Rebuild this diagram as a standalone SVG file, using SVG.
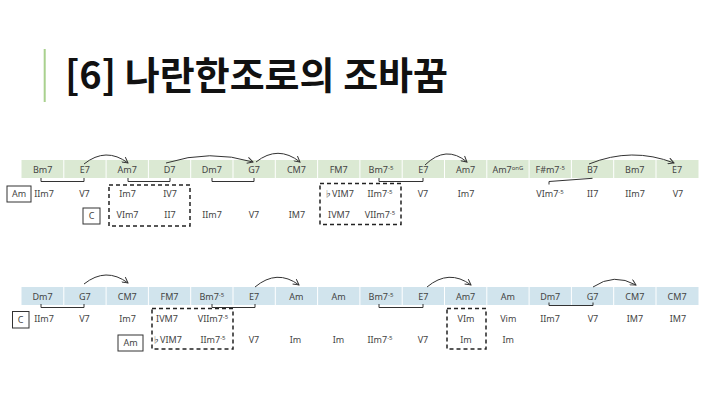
<svg xmlns="http://www.w3.org/2000/svg" width="720" height="404" viewBox="0 0 720 404">
<defs>
<marker id="arr" viewBox="0 0 8 8" refX="7" refY="4" markerWidth="7" markerHeight="7" markerUnits="userSpaceOnUse" orient="auto">
<path d="M0.5,0.5 L7,4 L0.5,7.5" fill="none" stroke="#333" stroke-width="1.1"/>
</marker>
</defs>
<style>
.title{font-family:"Noto Sans CJK KR","Noto Sans",sans-serif;font-weight:700;font-size:38px;fill:#111}
.ch{font-family:"Noto Sans","Open Sans",sans-serif;font-size:9px;fill:#444;text-anchor:middle}
.lb{font-family:"Noto Sans","Open Sans",sans-serif;font-size:9px;fill:#444;text-anchor:middle}
.sup{font-size:6px}
.fl{font-family:"Noto Sans CJK KR","DejaVu Sans",sans-serif;font-size:8px;fill:#444}
.band1{fill:#dbe9d3}
.band2{fill:#d1e4ed}
.div{stroke:#fff;stroke-width:1}
.arc{fill:none;stroke:#333;stroke-width:1;marker-end:url(#arr)}
.br{fill:none;stroke:#333;stroke-width:1}
.key{fill:#fff;stroke:#333;stroke-width:1}
.dash{fill:none;stroke:#222;stroke-width:1.5;stroke-dasharray:4 3}
</style>
<rect x="0" y="0" width="720" height="404" fill="#fff"/>
<g id="title">
<rect x="43.7" y="49" width="2" height="53" fill="#a9d18e"/>
<text class="title" x="65" y="89">[6] 나란한조로의 조바꿈</text>
</g>

<g id="row1">
<rect class="band1" x="21.5" y="160" width="677" height="18"/>
<g class="div">
<line x1="63.8" y1="160" x2="63.8" y2="178"/><line x1="106.1" y1="160" x2="106.1" y2="178"/><line x1="148.4" y1="160" x2="148.4" y2="178"/><line x1="190.7" y1="160" x2="190.7" y2="178"/><line x1="233" y1="160" x2="233" y2="178"/><line x1="275.3" y1="160" x2="275.3" y2="178"/><line x1="317.6" y1="160" x2="317.6" y2="178"/><line x1="359.9" y1="160" x2="359.9" y2="178"/><line x1="402.2" y1="160" x2="402.2" y2="178"/><line x1="444.5" y1="160" x2="444.5" y2="178"/><line x1="486.8" y1="160" x2="486.8" y2="178"/><line x1="529.1" y1="160" x2="529.1" y2="178"/><line x1="571.4" y1="160" x2="571.4" y2="178"/><line x1="613.7" y1="160" x2="613.7" y2="178"/><line x1="656" y1="160" x2="656" y2="178"/>
</g>
<g id="row1-chords">
<text class="ch" x="42.6" y="173.3">Bm7</text>
<text class="ch" x="84.9" y="173.3">E7</text>
<text class="ch" x="127.2" y="173.3">Am7</text>
<text class="ch" x="169.5" y="173.3">D7</text>
<text class="ch" x="211.8" y="173.3">Dm7</text>
<text class="ch" x="254.1" y="173.3">G7</text>
<text class="ch" x="296.4" y="173.3">CM7</text>
<text class="ch" x="338.7" y="173.3">FM7</text>
<text class="ch" x="381" y="173.3">Bm7<tspan class="sup" dy="-3">-5</tspan></text>
<text class="ch" x="423.3" y="173.3">E7</text>
<text class="ch" x="465.6" y="173.3">Am7</text>
<text class="ch" x="507.9" y="173.3">Am7<tspan class="sup" dy="-3">onG</tspan></text>
<text class="ch" x="550.2" y="173.3">F#m7<tspan class="sup" dy="-3">-5</tspan></text>
<text class="ch" x="592.5" y="173.3">B7</text>
<text class="ch" x="634.8" y="173.3">Bm7</text>
<text class="ch" x="677.1" y="173.3">E7</text>
</g>
</g>

<g id="row1-keys">
<g id="key-am1"><rect class="key" x="7" y="186" width="24" height="16"/><text class="lb" x="19" y="197.3">Am</text></g>
<g id="key-c1"><rect class="key" x="83" y="208" width="17" height="16"/><text class="lb" x="91.5" y="219.3">C</text></g>
</g>

<g id="row1-labels">
<text class="lb" x="44" y="196.5">IIm7</text>
<text class="lb" x="84.5" y="196.5">V7</text>
<text class="lb" x="127.5" y="196.5">Im7</text>
<text class="lb" x="170" y="196.5">IV7</text>
<text class="lb" x="339" y="196.5"><tspan class="fl">♭</tspan>VIM7</text>
<text class="lb" x="380" y="196.5">IIm7<tspan class="sup" dy="-3">-5</tspan></text>
<text class="lb" x="423" y="196.5">V7</text>
<text class="lb" x="466" y="196.5">Im7</text>
<text class="lb" x="550" y="196.5">VIm7<tspan class="sup" dy="-3">-5</tspan></text>
<text class="lb" x="592.7" y="196.5">II7</text>
<text class="lb" x="635" y="196.5">IIm7</text>
<text class="lb" x="678" y="196.5">V7</text>
<text class="lb" x="127.5" y="217.5">VIm7</text>
<text class="lb" x="170" y="217.5">II7</text>
<text class="lb" x="212" y="217.5">IIm7</text>
<text class="lb" x="254" y="217.5">V7</text>
<text class="lb" x="297" y="217.5">IM7</text>
<text class="lb" x="339" y="217.5">IVM7</text>
<text class="lb" x="380" y="217.5">VIIm7<tspan class="sup" dy="-3">-5</tspan></text>
</g>

<g id="row1-boxes">
<rect class="dash" x="109" y="185" width="81" height="41"/>
<rect class="dash" x="320" y="183.5" width="81" height="41"/>
</g>

<g id="row2">
<rect class="band2" x="21.5" y="287" width="677" height="18"/>
<g class="div">
<line x1="63.8" y1="287" x2="63.8" y2="305"/><line x1="106.1" y1="287" x2="106.1" y2="305"/><line x1="148.4" y1="287" x2="148.4" y2="305"/><line x1="190.7" y1="287" x2="190.7" y2="305"/><line x1="233" y1="287" x2="233" y2="305"/><line x1="275.3" y1="287" x2="275.3" y2="305"/><line x1="317.6" y1="287" x2="317.6" y2="305"/><line x1="359.9" y1="287" x2="359.9" y2="305"/><line x1="402.2" y1="287" x2="402.2" y2="305"/><line x1="444.5" y1="287" x2="444.5" y2="305"/><line x1="486.8" y1="287" x2="486.8" y2="305"/><line x1="529.1" y1="287" x2="529.1" y2="305"/><line x1="571.4" y1="287" x2="571.4" y2="305"/><line x1="613.7" y1="287" x2="613.7" y2="305"/><line x1="656" y1="287" x2="656" y2="305"/>
</g>
<g id="row2-chords">
<text class="ch" x="42.6" y="300">Dm7</text>
<text class="ch" x="84.9" y="300">G7</text>
<text class="ch" x="127.2" y="300">CM7</text>
<text class="ch" x="169.5" y="300">FM7</text>
<text class="ch" x="211.8" y="300">Bm7<tspan class="sup" dy="-3">-5</tspan></text>
<text class="ch" x="254.1" y="300">E7</text>
<text class="ch" x="296.4" y="300">Am</text>
<text class="ch" x="338.7" y="300">Am</text>
<text class="ch" x="381" y="300">Bm7<tspan class="sup" dy="-3">-5</tspan></text>
<text class="ch" x="423.3" y="300">E7</text>
<text class="ch" x="465.6" y="300">Am7</text>
<text class="ch" x="507.9" y="300">Am</text>
<text class="ch" x="550.2" y="300">Dm7</text>
<text class="ch" x="592.5" y="300">G7</text>
<text class="ch" x="634.8" y="300">CM7</text>
<text class="ch" x="677.1" y="300">CM7</text>
</g>
</g>

<g id="row2-keys">
<g id="key-c2"><rect class="key" x="12.5" y="311.5" width="16.5" height="16.5"/><text class="lb" x="20.7" y="323">C</text></g>
<g id="key-am2"><rect class="key" x="118" y="335" width="25" height="16"/><text class="lb" x="130.5" y="346.3">Am</text></g>
</g>

<g id="row2-labels">
<text class="lb" x="44" y="321.7">IIm7</text>
<text class="lb" x="84.5" y="321.7">V7</text>
<text class="lb" x="127.5" y="321.7">Im7</text>
<text class="lb" x="167" y="321.7">IVM7</text>
<text class="lb" x="213" y="321.7">VIIm7<tspan class="sup" dy="-3">-5</tspan></text>
<text class="lb" x="466" y="321.7">VIm</text>
<text class="lb" x="508.3" y="321.7">Vim</text>
<text class="lb" x="550" y="321.7">IIm7</text>
<text class="lb" x="593" y="321.7">V7</text>
<text class="lb" x="635" y="321.7">IM7</text>
<text class="lb" x="678" y="321.7">IM7</text>
<text class="lb" x="167" y="343.3"><tspan class="fl">♭</tspan>VIM7</text>
<text class="lb" x="213" y="343.3">IIm7<tspan class="sup" dy="-3">-5</tspan></text>
<text class="lb" x="254" y="343.3">V7</text>
<text class="lb" x="295.5" y="343.3">Im</text>
<text class="lb" x="338.5" y="343.3">Im</text>
<text class="lb" x="380" y="343.3">IIm7<tspan class="sup" dy="-3">-5</tspan></text>
<text class="lb" x="423" y="343.3">V7</text>
<text class="lb" x="466" y="343.3">Im</text>
<text class="lb" x="508.3" y="343.3">Im</text>
</g>

<g id="row2-boxes">
<rect class="dash" x="152" y="308.5" width="81" height="40.5"/>
<rect class="dash" x="447" y="308.5" width="39" height="40.5"/>
</g>

<g id="connectors">
<path class="arc" d="M84,164 Q106,146.5 128,163"/>
<path class="arc" d="M166,163 Q210,149 253,162"/>
<path class="arc" d="M256,162 Q278,144.6 300,162"/>
<path class="arc" d="M425,165 Q446,144.5 467,162"/>
<path class="arc" d="M589,164 Q632,146.5 674,163"/>
<path class="arc" d="M84,284 Q106,266.5 128,283"/>
<path class="arc" d="M255,287 Q277,268.6 299,285"/>
<path class="arc" d="M427,287 Q449,268.6 471,285"/>
<path class="arc" d="M593,287 Q614,272.6 636,285"/>
<path class="br" d="M41,178 V181.5 H84 V178"/>
<path class="br" d="M128,178 V181.5 H170 V178"/>
<path class="br" d="M212,178 V181.5 H254 V178"/>
<path class="br" d="M379,178 V181.5 H423 V178"/>
<path class="br" d="M549,184.5 V181.5 L592.5,178.3"/>
<path class="br" d="M41,304 V307.5 H84 V304"/>
<path class="br" d="M212,304 V307.5 H255 V304"/>
<path class="br" d="M379,304 V307.5 H423 V304"/>
<path class="br" d="M549,302.5 V305.5 H593 V302.5"/>
</g>
</svg>
